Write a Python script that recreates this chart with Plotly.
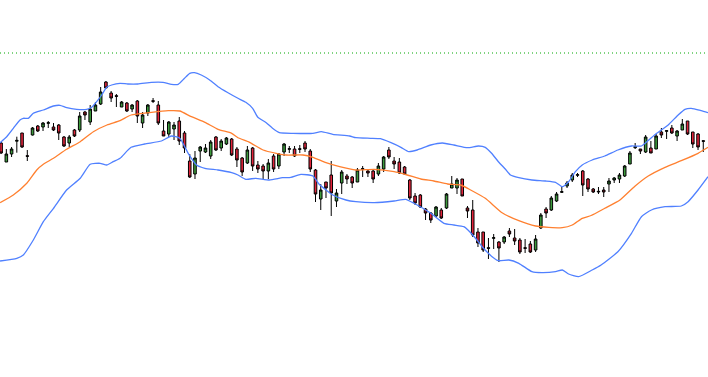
import plotly.graph_objects as go

# OHLC values (price units, 135 sessions)
opens = [257, 238, 246, 258.8, 267, 244.3, 265, 274, 273, 276.7,
         273, 275, 263, 257, 270, 270, 288, 278, 289, 296,
         318, 307, 304.3, 293, 297, 291, 299, 277, 287, 299.3,
         295, 269, 266, 271, 279, 267, 239, 226, 249, 248,
         244, 263, 252, 256, 261, 251, 242, 237, 252, 235,
         234, 229, 244, 234, 248, 250.7, 251, 251.3, 257, 249,
         230, 201, 218, 225, 199, 217, 224, 223, 218, 230.7,
         229, 229, 226, 231, 250, 239, 238, 233, 220, 204,
         205, 191, 187, 184, 190, 192, 212, 212, 221, 192,
         190, 168, 168, 152.3, 161.7, 158, 158, 169, 162, 160,
         152.3, 156, 150, 172, 191, 190, 199, 207.7, 214, 220,
         224.7, 229, 221, 211, 208, 210, 216, 220, 221, 224,
         236, 252.3, 251, 248, 252, 251, 268, 268.7, 272, 264,
         270, 279, 268, 266, 259.3]
highs = [258, 251, 253, 263.3, 267, 250, 273, 275, 278, 279,
         277, 276, 264, 265, 271, 288, 289, 295, 298, 313,
         319, 309, 306, 299, 298, 296, 300, 288, 296, 302,
         299, 280, 279, 278, 283, 269, 246, 249, 254, 256,
         260, 264, 261, 263, 262, 253, 243, 254, 253, 239,
         236, 241, 246, 247, 257, 254, 254, 255, 259, 251,
         231, 216, 218, 239, 211, 230, 226, 224, 232, 234,
         231, 231, 237, 244, 253, 243, 242, 234, 221, 207,
         206, 192, 188, 194, 192, 207, 224, 222, 221, 194,
         200, 172, 168, 162, 166, 159, 164, 172, 171, 162,
         161, 159, 165, 187, 193, 204, 208, 213, 219, 227,
         227, 230, 222, 212, 213, 213, 222, 223, 227, 235,
         249, 257, 251, 265, 259, 266, 272, 270, 275, 270,
         281, 279, 268, 267, 260]
lows = [246, 238, 243, 247.3, 252, 239, 264.5, 268, 269, 272,
        269, 260, 253, 253, 263, 268, 280, 275, 289, 295,
        312, 298, 293, 293, 288, 288, 277, 272, 284, 297,
        275, 264, 263, 260, 255, 247, 222, 221, 238, 247,
        241, 249, 249, 255, 244, 233, 224, 236, 229, 227,
        221, 221, 228, 231, 244, 247, 243, 247, 248, 228,
        198, 190, 202, 184, 193, 206, 216, 212, 218, 223,
        223, 217, 224, 228, 241, 231, 226, 225, 200, 195,
        192, 180, 177, 183, 181, 191, 212, 206, 204, 182,
        163, 153, 148, 141, 151, 138, 156, 163, 155, 146,
        147, 147, 148, 171, 182, 189, 198, 207, 212, 218,
        223, 204, 208, 207, 206, 203, 208, 217, 217, 223,
        236, 251, 246, 247, 247, 251, 262, 261, 266, 259,
        270, 265, 252, 250, 248]
closes = [247, 246, 251, 259.6, 253, 243.7, 272, 269, 277, 277.3,
          270, 267, 254, 263, 264, 284, 285, 291, 295, 308,
          312, 302, 303.7, 298, 289, 295, 284, 285, 295, 298.7,
          277, 264, 278, 275, 259, 252, 223, 242, 253, 252,
          258, 250, 259, 262, 245, 240, 228, 250, 234, 231,
          229, 237, 231, 246, 256, 251.3, 244, 250.7, 251, 231,
          206, 210, 212, 207, 207, 228, 221, 217, 230, 231.3,
          227, 221, 234, 243, 243, 236, 227, 226, 202, 197,
          193, 187, 180, 193, 182, 206, 216, 220, 204, 189,
          165, 157, 150, 151.7, 162.3, 152, 163, 166, 159, 148,
          151.7, 148, 161, 185, 187, 202, 206, 208.3, 217, 225,
          225.3, 215, 211, 208, 208.6, 208, 219, 222, 225, 234,
          247, 253.3, 249, 263, 247, 264, 265, 269.3, 267, 269,
          276, 266, 256, 253, 258.7]
sessions = list(range(len(opens)))

upper_x = [-0.2, 1.07, 2.33, 3.6, 4.24, 5.19, 6.15, 8.06, 9.98, 11.24,
           12.52, 14.43, 16.34, 17.29, 18.24, 19.2, 20.15, 21.1, 22.69, 24.2,
           26.1, 28.7, 30.9, 32.5, 33.8, 35.0, 36.0, 36.9, 38.2, 39.8,
           41.4, 43.3, 45.2, 46.7, 48.0, 49.0, 50.6, 51.8, 53.1, 55.7,
           59.5, 61.1, 63.3, 66.5, 67.7, 70.5, 72.4, 74.4, 76.3, 77.8,
           79.4, 82.0, 84.2, 86.4, 89.0, 91.1, 92.4, 93.6, 94.9, 96.2,
           97.2, 98.8, 101.3, 103.9, 105.8, 107.1, 108.3, 109.6, 110.9, 112.8,
           115.2, 117.7, 120.3, 122.2, 124.7, 127.3, 129.2, 130.5, 131.7, 133.6,
           134.9]
upper_v = [257.3, 263.3, 271.7, 280, 281.7, 281.7, 286.7, 290, 294, 294.7,
           292.3, 290.7, 290.7, 292.7, 298.3, 305, 312.7, 315, 316.7, 316,
           316, 317.7, 317.7, 315.7, 315.7, 321.7, 326.7, 327.3, 325, 320,
           313.3, 307.3, 301.7, 297.7, 291.7, 282.7, 277.3, 271.7, 267.3, 266.7,
           266.7, 268.3, 265.7, 264, 262.3, 261.7, 261.3, 257.3, 252.7, 248.3,
           250, 255, 257, 255, 252.3, 254, 252.7, 246.7, 238.3, 231,
           225, 222.3, 220, 219, 217.7, 213.3, 218.3, 228.3, 235, 240,
           244, 250, 254, 254, 265, 275, 285, 290.7, 291.7, 289.3,
           287.3]
middle_x = [-0.2, 2.33, 4.9, 6.8, 8.06, 10.0, 12.5, 15.1, 17.6, 20.2,
            22.7, 24.8, 28.7, 31.9, 34.1, 36.3, 38.9, 41.4, 44.0, 45.2,
            47.4, 50.0, 52.5, 54.4, 57.6, 59.5, 62.0, 64.6, 67.7, 71.2,
            75.0, 77.5, 80.1, 82.6, 85.2, 87.7, 89.6, 92.4, 95.6, 98.8,
            102.0, 104.5, 107.1, 109.0, 110.9, 112.6, 115.2, 118.1, 121.0, 123.5,
            126.7, 129.8, 133.0, 134.9]
middle_v = [197.3, 205, 216.7, 230, 235.7, 241.7, 250.7, 258.3, 268.3, 275,
            279.3, 285, 287.7, 289.3, 289, 283.3, 277.7, 270.7, 266.7, 262.3,
            257.7, 250, 246.7, 245, 245, 242.7, 237.3, 233.3, 230, 230.7,
            228.3, 225, 221, 219, 216, 215, 210, 201.7, 187.3, 179.3,
            174, 172.7, 172.3, 175, 181.7, 184.5, 191.7, 200, 214, 224,
            232.7, 239.3, 246.7, 252.7]
lower_x = [-0.2, 3.0, 4.24, 6.15, 8.06, 10.0, 12.5, 15.1, 17.0, 18.9,
           20.2, 21.4, 22.7, 24.8, 27.4, 30.6, 32.5, 34.1, 35.7, 37.3,
           38.9, 41.4, 44.0, 45.2, 46.7, 48.6, 51.2, 53.7, 55.3, 57.2,
           59.5, 60.7, 63.3, 65.8, 67.7, 71.2, 75.0, 77.2, 78.8, 82.0,
           84.5, 86.4, 88.3, 90.3, 91.8, 93.7, 94.9, 96.9, 98.8, 101.3,
           103.2, 105.8, 107.1, 108.3, 110.2, 112.8, 114.5, 117.7, 120.3, 122.2,
           124.1, 126.7, 129.8, 131.1, 133.0, 134.9]
lower_v = [139, 141.7, 145, 160, 178.3, 191.7, 210, 221.7, 235.7, 236.7,
           235, 238.3, 241.7, 252.7, 256, 259, 264, 261.7, 246.7, 235,
           231.7, 230, 227.3, 225, 220.7, 221.7, 220, 222.3, 222.7, 225.7,
           224, 215.7, 205, 200, 198.3, 197.3, 199, 200.7, 196.7, 186.7,
           176.7, 175, 173.3, 163.3, 153.3, 143.3, 139.3, 140, 136.7, 128.3,
           127.3, 128.3, 130, 126, 123.3, 130, 135, 148.3, 166.7, 183.3,
           190, 193.3, 194, 198.3, 210, 223.3]

reference_level = 347

fig = go.Figure()
fig.add_trace(go.Scatter(x=upper_x, y=upper_v, mode="lines",
                         line=dict(color="#5080ff", width=1.3, shape="spline", smoothing=0.5),
                         hoverinfo="skip", showlegend=False))
fig.add_trace(go.Scatter(x=lower_x, y=lower_v, mode="lines",
                         line=dict(color="#5080ff", width=1.3, shape="spline", smoothing=0.5),
                         hoverinfo="skip", showlegend=False))
fig.add_trace(go.Scatter(x=middle_x, y=middle_v, mode="lines",
                         line=dict(color="#ff8030", width=1.3, shape="spline", smoothing=0.5),
                         hoverinfo="skip", showlegend=False))
fig.add_trace(go.Candlestick(
    x=sessions, open=opens, high=highs, low=lows, close=closes,
    increasing=dict(line=dict(color="#000000", width=1), fillcolor="#3c9a3c"),
    decreasing=dict(line=dict(color="#000000", width=1), fillcolor="#e3243b"),
    whiskerwidth=0, showlegend=False))

fig.add_shape(type="line", xref="paper", x0=0, x1=1, yref="y",
              y0=reference_level, y1=reference_level,
              line=dict(color="#00a800", width=1, dash="1px,3px"))

fig.update_layout(
    width=708, height=377,
    margin=dict(l=0, r=0, t=0, b=0),
    paper_bgcolor="white", plot_bgcolor="white",
    xaxis=dict(range=[-0.21, 134.9], visible=False, rangeslider=dict(visible=False),
               showgrid=False, zeroline=False),
    yaxis=dict(range=[23, 400], visible=False, showgrid=False, zeroline=False),
    showlegend=False,
)

fig.write_html("out.html", config={"responsive": False, "displayModeBar": False},
               post_script="document.body.style.margin='0';document.body.style.overflow='hidden';")
